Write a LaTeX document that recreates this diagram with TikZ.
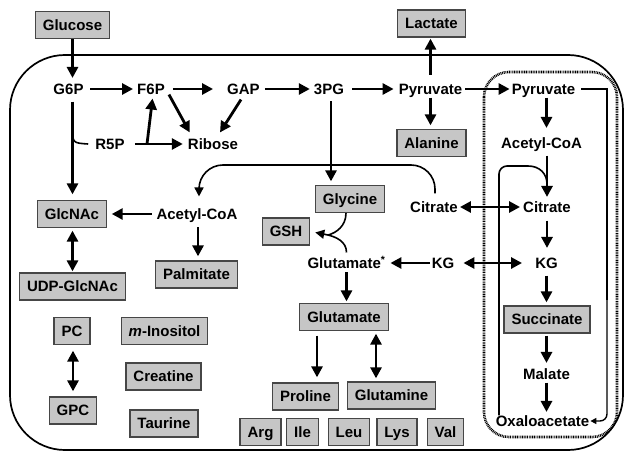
\documentclass[tikz,border=0pt]{standalone}
\usepackage{fontspec}
\setmainfont{Liberation Sans}
\usetikzlibrary{arrows.meta}
\definecolor{boxfill}{RGB}{198,198,198}
\definecolor{boxline}{RGB}{70,70,70}
\begin{document}
\begin{tikzpicture}[x=1pt,y=-1pt,
  font=\fontsize{15}{17}\selectfont\bfseries,
  met/.style={inner sep=0pt, text height=10.7pt, text depth=0pt},
  metbox/.style={draw=boxline, fill=boxfill, line width=1.3pt, inner xsep=7.5pt, inner ysep=0pt,
     minimum height=27pt, text height=10.7pt, text depth=0pt},
  arr/.style={line width=2.8pt, -{Triangle[length=11pt,width=11pt]}},
  darr/.style={line width=2.8pt, {Triangle[length=11pt,width=11pt]}-{Triangle[length=11pt,width=11pt]}},
  thinline/.style={line width=1.6pt},
  thinarr/.style={line width=1.6pt, -{Triangle[length=9pt,width=9pt]}},
  smallarr/.style={line width=1.4pt, -{Triangle[length=6pt,width=6pt]}},
  mitodot/.style={line width=2.6pt, dash pattern=on 0.9pt off 0.8pt},
]
\useasboundingbox (0,0) rectangle (624,452);

% compartments
\draw[line width=1.7pt, rounded corners=55pt] (10,55) rectangle (623,450);
\draw[mitodot, rounded corners=25pt] (484,72) rectangle (617,437);

% boxed metabolites
\node[metbox] (glucose) at (72.5,25) {Glucose};
\node[metbox] (lactate) at (431.5,23.5) {Lactate};
\node[metbox] (alanine) at (431.5,143) {Alanine};
\node[metbox] (glycine) at (350,199) {Glycine};
\node[metbox] (glcnac) at (72,214) {GlcNAc};
\node[metbox] (gsh) at (286,231.5) {GSH};
\node[metbox] (udp) at (72.5,286.5) {UDP-GlcNAc};
\node[metbox] (palmitate) at (196.5,274.5) {Palmitate};
\node[metbox] (gbox) at (344,317) {Glutamate};
\node[metbox] (succinate) at (547,319.5) {Succinate};
\node[metbox] (pc) at (72,331) {PC};
\node[metbox] (inositol) at (164.5,331) {\textit{m}-Inositol};
\node[metbox] (creatine) at (163.5,376.5) {Creatine};
\node[metbox] (proline) at (305.5,396.5) {Proline};
\node[metbox] (glutamine) at (391.5,395.5) {Glutamine};
\node[metbox] (gpc) at (73,410.5) {GPC};
\node[metbox] (taurine) at (164,423.5) {Taurine};
\node[metbox] (arg) at (260.5,432) {Arg};
\node[metbox] (ile) at (302.5,432) {Ile};
\node[metbox] (leu) at (349,432) {Leu};
\node[metbox] (lys) at (397,432) {Lys};
\node[metbox] (val) at (445.5,432) {Val};

% plain metabolites
\node[met] (g6p) at (68.5,89) {G6P};
\node[met] (f6p) at (151,89) {F6P};
\node[met] (gap) at (243.5,89) {GAP};
\node[met] (pg3) at (329,89) {3PG};
\node[met] (pyrL) at (430.5,89) {Pyruvate};
\node[met] (pyrR) at (543.5,89) {Pyruvate};
\node[met] (r5p) at (110,144) {R5P};
\node[met] (ribose) at (213,144) {Ribose};
\node[met] (acR) at (541.5,143) {Acetyl-CoA};
\node[met] (citL) at (434,207) {Citrate};
\node[met] (citR) at (547,207) {Citrate};
\node[met] (acL) at (197,214) {Acetyl-CoA};
\node[met] (gstar) at (346.5,263) {Glutamate\textsuperscript{*}};
\node[met] (kgL) at (443,263) {KG};
\node[met] (kgR) at (546.5,263) {KG};
\node[met] (malate) at (546.5,374) {Malate};
\node[met] (oxalo) at (542.5,421) {Oxaloacetate};

% helper coordinates
\coordinate (brR5P) at (72.5,127);
\coordinate (brF6P) at (147,144);
\coordinate (cyctop) at (300,165);
\coordinate (gshm) at (328,235);
\coordinate (mitR) at (607,300);
\coordinate (mitL) at (499,300);
\coordinate (cycR) at (520,166);
\coordinate (joinR) at (547,184);

% citrate -> acetyl-CoA (cytosol)
\draw[thinarr, rounded corners=24pt]
  ([xshift=1pt,yshift=8pt]citL.north) |- (cyctop) -| ([xshift=2pt,yshift=12pt]acL.north);

% glycolysis row
\draw[arr, shorten <=6.5pt, shorten >=4pt] (g6p.east) -- (f6p.west);
\draw[arr, shorten <=8pt, shorten >=14pt] (f6p.east) -- (gap.west);
\draw[arr, shorten <=5pt, shorten >=4pt] (gap.east) -- (pg3.west);
\draw[arr, shorten <=8pt, shorten >=5pt] (pg3.east) -- (pyrL.west);
\draw[thinline, shorten <=3pt] (pyrL.east) -- ([xshift=-10pt]pyrR.west);
\draw[arr, shorten >=2pt] ([xshift=-12pt]pyrR.west) -- (pyrR.west);

% glucose, G6P branches
\draw[arr, shorten >=5.5pt] (glucose.south) -- (glucose.south |- g6p.north);
\draw[arr, shorten <=7pt, shorten >=5.5pt] (glucose.south |- g6p.south) -- (glucose.south |- glcnac.north);
\draw[thinline] (brR5P) .. controls (72.5,143) .. ([xshift=-7pt]r5p.west);
\draw[arr, shorten <=10pt, shorten >=5pt] (r5p.east) -- (ribose.west);
\draw[arr, shorten >=4pt] (brF6P) -- ([xshift=2pt]f6p.south);
\draw[arr] ([xshift=4pt]f6p.south east) -- ([xshift=2pt,yshift=6pt]ribose.north west);
\draw[arr] ([xshift=-2.5pt,yshift=-5pt]gap.south) -- ([xshift=7pt,yshift=6pt]ribose.north);

% pyruvate branches
\draw[arr, shorten <=8.5pt, shorten >=1pt] (pyrL.north) -- (pyrL.north |- lactate.south);
\draw[arr, shorten <=3pt, shorten >=3.5pt] (pyrL.south) -- (pyrL.south |- alanine.north);
\draw[arr, shorten <=6.5pt, shorten >=3.5pt] ([xshift=2pt]pg3.south) -- ([xshift=2pt]pg3.south |- glycine.north);

% acetyl-CoA (cytosol)
\draw[arr, shorten <=4.5pt, shorten >=4.5pt] (acL.west) -- (glcnac.east);
\draw[arr, shorten <=7.5pt, shorten >=4pt] ([xshift=1pt]acL.south) -- ([xshift=1pt]acL.south |- palmitate.north);
\draw[darr, shorten <=2.5pt, shorten >=1pt] (glcnac.south -| glucose.south) -- (udp.north -| glucose.south);
\draw[darr, shorten <=5.5pt, shorten >=5pt] ([xshift=1pt]pc.south) -- ([xshift=1pt]pc.south |- gpc.north);

% citrate, KG exchange
\draw[darr, shorten <=2pt, shorten >=3pt] (citL.east) -- (citR.west);
\draw[arr, shorten <=1.5pt, shorten >=4.75pt] (kgL.west) -- (gstar.east);
\draw[darr, shorten <=9pt, shorten >=13pt] (kgL.east) -- (kgR.west);

% GSH synthesis
\draw[thinline] ([xshift=-4pt]glycine.south) .. controls +(0,13) and +(8,-2) .. (gshm);
\draw[thinline] ([yshift=5pt]gstar.north) .. controls +(0,-11) and +(8,2) .. (gshm);
\draw[thinarr, shorten >=5pt] (gshm) -- (gsh.east);

% glutamate
\draw[arr, shorten <=3.5pt, shorten >=1.5pt] (gstar.south) -- (gstar.south |- gbox.north);
\draw[arr, shorten <=4.5pt, shorten >=5pt] ([xshift=-27pt]gbox.south) -- ([xshift=-27pt]gbox.south |- proline.north);
\draw[darr, shorten <=2.5pt, shorten >=3pt] ([xshift=32pt]gbox.south) -- ([xshift=32pt]gbox.south |- glutamine.north);

% TCA cycle
\draw[arr, shorten <=3pt, shorten >=9.5pt] ([xshift=3pt]pyrR.south) -- ([xshift=3pt]pyrR.south |- acR.north);
\draw[arr, shorten <=7pt, shorten >=4.5pt] (citR.north |- acR.south) -- (citR.north);
\draw[arr, shorten <=8pt, shorten >=9.5pt] (citR.south) -- (citR.south |- kgR.north);
\draw[arr, shorten <=7pt, shorten >=3pt] (kgR.south) -- (kgR.south |- succinate.north);
\draw[arr, shorten <=2pt, shorten >=5.5pt] (succinate.south -| malate.south) -- (malate.north);
\draw[arr, shorten <=3pt, shorten >=3.5pt] (malate.south) -- (malate.south |- oxalo.north);

% inner mitochondrial lines
\draw[thinline] ([xshift=6pt]pyrR.east) -| (mitR);
\draw[smallarr, rounded corners=7pt, shorten >=1pt]
  (mitR) |- (oxalo.east);
\draw[thinline, rounded corners=8pt]
  (mitL |- oxalo.north) |- (cycR) .. controls +(20,0) and +(0,-10) .. (joinR);
\end{tikzpicture}
\end{document}
